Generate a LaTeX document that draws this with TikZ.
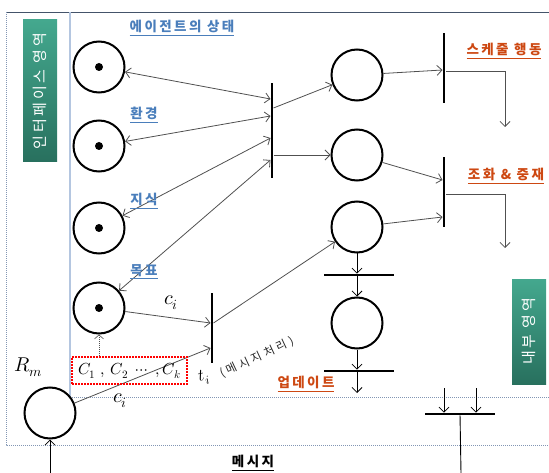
\documentclass[tikz,border=0pt]{standalone}
\usepackage{fontspec}
\usepackage{unicode-math}
\setmathfont{Latin Modern Math}
\newfontfamily\kr[LetterSpace=18]{Noto Sans CJK KR}
\newfontfamily\krw[LetterSpace=28]{Noto Sans CJK KR}
\usetikzlibrary{arrows.meta}
\definecolor{lblue}{RGB}{74,126,187}
\definecolor{lorange}{RGB}{205,72,18}
\definecolor{lgray}{RGB}{80,80,80}
\definecolor{frameblue}{RGB}{68,84,106}
\definecolor{dotblue}{RGB}{130,150,180}
\definecolor{innerblue}{RGB}{180,198,224}
\definecolor{gli}{RGB}{68,168,142}
\definecolor{gda}{RGB}{40,112,94}
\begin{document}
\begin{tikzpicture}[x=1pt,y=-1pt,
  place/.style={circle,draw=black,line width=2pt,minimum size=51pt,inner sep=0pt},
  tok/.style={circle,fill=black,minimum size=8pt,inner sep=0pt},
  vbar/.style={fill=black,draw=none,minimum width=2.8pt,minimum height=70pt,inner sep=0pt,outer sep=0pt},
  hbar/.style={fill=black,draw=none,minimum height=2.6pt,minimum width=70pt,inner sep=0pt,outer sep=0pt},
  conn/.style={draw=lgray,line width=0.8pt,-{Straight Barb[length=5pt,width=10pt,line width=0.8pt]}},
  conn2/.style={draw=lgray,line width=0.8pt,{Straight Barb[length=5pt,width=10pt,line width=0.8pt]}-{Straight Barb[length=5pt,width=10pt,line width=0.8pt]}},
  bconn/.style={conn,draw=black},
  klab/.style={font=\kr\bfseries\fontsize{13.5}{15}\selectfont,inner sep=0pt},
  gbox/.style={rotate=90,minimum width=142pt,minimum height=34pt,inner sep=0pt,
    top color=gli,bottom color=gda,text=white,font=\kr\fontsize{15}{17}\selectfont},
  dotline/.style={draw=dotblue,line width=1pt,dash pattern=on 1pt off 1pt},
  mathlab/.style={inner sep=0pt,font=\fontsize{20}{22}\selectfont}
]
\useasboundingbox (0,0) rectangle (549,473);

% frame
\coordinate (fTL) at (6,12);
\coordinate (fTR) at (549,12);
\coordinate (fBL) at (6,445);
\coordinate (fBR) at (549,445);
\coordinate (iT) at (70,12);
\coordinate (iBL) at (70,397);
\coordinate (iBR) at (549,397);
\draw[draw=frameblue,line width=0.8pt] (fTL) -- (fTR);
\draw[dotline] (fTL) -- (fBL) -- (fBR);
\draw[draw=innerblue,line width=1.3pt] (iT) -- (iBL);
\draw[dotline] (iBL) -- (iBR);

% green boxes
\node[gbox] (gL) at (40,91) {인터페이스 영역};
\node[gbox,minimum width=105pt] (gR) at (529,331.5) {내부 영역};

% places
\node[place] (p1) at (99,67) {};
\node[place] (p2) at (99,146) {};
\node[place] (p3) at (99,228) {};
\node[place] (p4) at (99,308) {};
\node[tok] (k1) at (p1) {};
\node[tok] (k2) at (p2) {};
\node[tok] (k3) at (p3) {};
\node[tok] (k4) at (p4) {};
\node[place] (pR) at (50,413) {};
\node[place] (pA) at (357,75) {};
\node[place] (pB) at (357,155) {};
\node[place] (pC) at (357,227) {};
\node[place] (pD) at (357,323) {};

% transitions
\node[vbar,minimum height=95pt] (T1) at (272,130.5) {};
\node[vbar] (T2) at (444,68) {};
\node[vbar] (T3) at (444,192) {};
\node[vbar] (Ti) at (212,328) {};
\node[hbar] (H1) at (359,275) {};
\node[hbar] (H2) at (359,371) {};
\node[hbar] (H3) at (460,414) {};

% connector coordinates
\coordinate (t1a) at (270.5,99);
\coordinate (t1b) at (270.5,116);
\coordinate (t1c) at (270.5,138);
\coordinate (t1d) at (270.5,160);
\coordinate (t1o1) at (273.5,108);
\coordinate (t1o2) at (273.5,155);
\coordinate (t2a) at (442.5,70);
\coordinate (t2o) at (446,71);
\coordinate (e1) at (505,127);
\coordinate (t3a) at (442.5,180);
\coordinate (t3b) at (442.5,217);
\coordinate (t3o) at (446,194);
\coordinate (e2) at (505,248);
\coordinate (tia) at (210.5,323);
\coordinate (tib) at (210.5,348);
\coordinate (tio) at (213.5,323);
\coordinate (e3) at (357,393);
\coordinate (rin) at (50,473);
\coordinate (h3a) at (444,388);
\coordinate (h3b) at (476,388);
\coordinate (h3out) at (461,473);

% connectors
\draw[conn2] (p1) -- (t1a);
\draw[conn2] (p2) -- (t1b);
\draw[conn2] (p3) -- (t1c);
\draw[conn2] (p4) -- (t1d);
\draw[conn] (t1o1) -- (pA);
\draw[conn] (t1o2) -- (pB);
\draw[conn] (pA) -- (t2a);
\draw[conn] (t2o) -| (e1);
\draw[conn] (pB) -- (t3a);
\draw[conn] (pC) -- (t3b);
\draw[conn] (t3o) -| (e2);
\draw[conn] (p4) -- (tia);
\draw[conn] (pR) -- (tib);
\draw[conn] (tio) -- (pC);
\draw[bconn] (pC) -- (pC |- H1.north);
\draw[bconn] (pD |- H1.south) -- (pD);
\draw[bconn] (pD) -- (pD |- H2.north);
\draw[bconn] (pD |- H2.south) -- (e3);
\draw[bconn] (rin) -- (pR);
\draw[bconn] (h3a) -- (h3a |- H3.north);
\draw[bconn] (h3b) -- (h3b |- H3.north);
\draw[draw=black,line width=0.9pt] (H3) -- (h3out);

% red dotted box
\node[draw=red,line width=1.6pt,dash pattern=on 1.6pt off 1.4pt,minimum width=115pt,minimum height=27pt,inner sep=0pt,
      font=\fontsize{16}{18}\selectfont] (cbox) at (129.5,370.5) {$C_1\ ,\, C_2\ \cdots\ ,C_k$};
\draw[draw=lgray,line width=0.6pt,dash pattern=on 1pt off 1pt,-{Straight Barb[length=4pt,width=9pt,line width=0.6pt]}]
  (cbox.north -| p4) -- (p4);

% labels
\node[klab,text=lblue] (lab1) at (182,28) {\underline{에이전트의 상태}};
\node[klab,text=lblue] (lab2) at (144,115) {\underline{환경}};
\node[klab,text=lblue] (lab3) at (144,201) {\underline{지식}};
\node[klab,text=lblue] (lab4) at (144,272) {\underline{목표}};
\node[klab,text=lorange] (lab5) at (504,51) {\underline{스케줄 행동}};
\node[klab,text=lorange] (lab6) at (506,176) {\underline{조화 \& 중재}};
\node[klab,text=lorange] (lab7) at (306,384) {\underline{업데이트}};
\node[klab,text=black] (lab8) at (253,463) {\underline{메시지}};

\node[mathlab] (rm) at (28,367) {$R_m$};
\node[mathlab] (ci1) at (171,303) {$c_i$};
\node[mathlab] (ci2) at (120,401) {$c_i$};
\node[inner sep=0pt,rotate=12,anchor=base west,font=\fontsize{17}{19}\selectfont] (tilab) at (199,382) {$t_i$};
\node[inner sep=0pt,rotate=25,anchor=base west,text=black!85,font=\krw\fontsize{11.5}{13}\selectfont] (msglab) at (222,378) {(메시지처리)};
\end{tikzpicture}
\end{document}
